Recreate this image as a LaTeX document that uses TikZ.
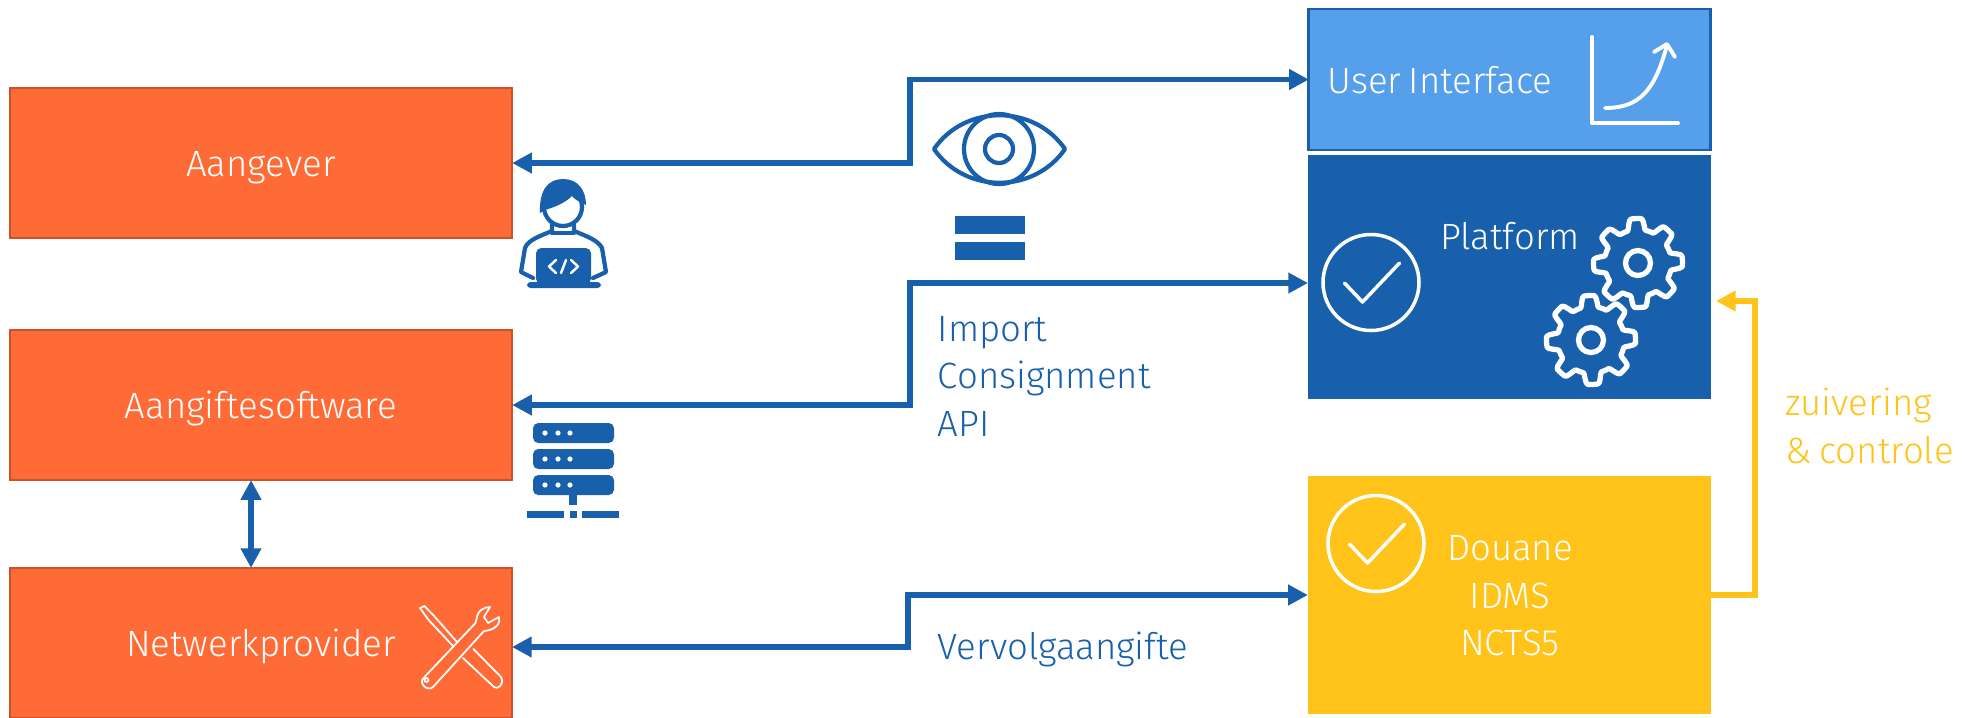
\documentclass[tikz,border=0pt]{standalone}
\usepackage{fontspec}
\setmainfont{Fira Sans}[UprightFont=* Light, WordSpace=0.7]
\usetikzlibrary{calc, arrows.meta}
\definecolor{orangebox}{HTML}{FF6B37}
\definecolor{orangeline}{HTML}{C9522A}
\definecolor{bluelight}{HTML}{569FEB}
\definecolor{bluedark}{HTML}{1860AC}
\definecolor{yellowbox}{HTML}{FFC319}
\tikzset{
    labeltext/.style={font=\fontsize{10.4}{13.5}\selectfont, align=center, inner sep=0pt},
    partybox/.style={draw=orangeline, line width=0.6pt, fill=orangebox, text=white, labeltext, outer sep=0pt, text height=7.4pt, text depth=0pt, minimum width=5.02cm, minimum height=1.5cm},
    flow/.style={draw=bluedark, line width=1.5pt, {Triangle[length=5.6pt,width=5.6pt]}-{Triangle[length=5.6pt,width=5.6pt]}},
    checkflow/.style={draw=yellowbox, line width=1.5pt, -{Triangle[length=5.6pt,width=5.6pt]}},
    whiteline/.style={draw=white, line width=1pt, line join=round, line cap=round},
    blueline/.style={draw=bluedark, line width=1.2pt, line join=round, line cap=round},
    gearicon/.pic={
        \draw[whiteline, line width=1.5pt] plot[samples=161, domain=0:360] ({(39+5.5*max(-1,min(1,2.2*cos(8*\x+20))))*cos(\x)}, {(39+5.5*max(-1,min(1,2.2*cos(8*\x+20))))*sin(\x)}) -- cycle;
        \draw[whiteline, line width=1.5pt] (0,0) circle (12.5);
    },
    checkicon/.pic={
        \draw[whiteline] (0,0) circle (48);
        \draw[whiteline] (-26.5,0.5) -- (-8.5,19.5) -- (28.5,-19.5);
    },
}
\begin{document}
\begin{tikzpicture}[x=0.01cm, y=-0.01cm]
    \useasboundingbox (0,0) rectangle (1965,717);
    \node[partybox] (aangever) at (261,163) {Aangever};
    \node[partybox] (software) at (261,405) {Aangiftesoftware};
    \node[partybox] (provider) at (261,643) {Netwerkprovider};
    \node[draw=bluedark, fill=bluelight, line width=0.8pt, outer sep=0pt, minimum width=4.01cm, minimum height=1.41cm] (ui) at (1509.5,79.5) {};
    \node[fill=bluedark, inner sep=0pt, outer sep=0pt, minimum width=4.03cm, minimum height=2.44cm] (platform) at (1509.5,277) {};
    \node[fill=yellowbox, inner sep=0pt, outer sep=0pt, minimum width=4.03cm, minimum height=2.38cm] (douane) at (1509.5,595) {};

    \node[labeltext, text=white, anchor=west] (uilabel) at (1327,80) {User Interface};
    \node[labeltext, text=white] (platformlabel) at (1510,236) {Platform};
    \node[labeltext, text=white] (douanelabel) at (1510,596) {Douane\\IDMS\\NCTS5};
    \node[labeltext, text=bluedark, align=left, anchor=west] (apilabel) at (937,376) {Import\\Consignment\\API};
    \node[labeltext, text=bluedark, anchor=west] (vervolglabel) at (937,649) {Vervolgaangifte};
    \node[labeltext, text=yellowbox, align=left, anchor=west] (zuiveringlabel) at (1785,426) {zuivering\\\& controle};

    \coordinate (platformin) at (1308,283);
    \coordinate (platformback) at (1716,301);
    \coordinate (providerin) at (512,647);
    \draw[flow] (aangever.east) -- (910,163) -- (910,79.5) -- (ui.west);
    \draw[flow] (software.east) -- (910,405) -- (910,283) -- (platformin);
    \draw[flow] (providerin) -- (908,647) -- (908,595) -- (douane.west);
    \draw[flow] (software.south -| 251,0) -- (provider.north -| 251,0);
    \draw[checkflow] (douane.east) -- (1755,595) -- (1755,301) -- (platformback);

    \draw[blueline] (934,149) .. controls (965,104) and (1034,104) .. (1065,149) .. controls (1034,194) and (965,194) .. cycle;
    \draw[blueline] (999,149) circle (35);
    \draw[blueline] (999,149) circle (14);
    \fill[bluedark] (955,216) rectangle (1025,234);
    \fill[bluedark] (955,242) rectangle (1025,260);

    \draw[blueline] (563,207) circle (19);
    \fill[bluedark] (540,213) .. controls (539,190) and (548,179) .. (563,179) .. controls (578,179) and (586,190) .. (586,205) .. controls (580,202) and (575,200) .. (572,196) .. controls (565,203) and (555,207) .. (545,210) -- cycle;
    \draw[blueline] (533,278) -- (521,272) -- (525,248) .. controls (528,240) and (540,236) .. (552,231) -- (552,225);
    \draw[blueline] (593,278) -- (606,272) -- (602,248) .. controls (598,240) and (586,236) .. (574,231) -- (574,225);
    \draw[blueline] (552,233) -- (574,233);
    \fill[bluedark, rounded corners=1.5pt] (536,248) rectangle (591,284);
    \fill[bluedark, rounded corners=1pt] (527,282) rectangle (601,288);
    \draw[whiteline, line width=0.7pt] (556,260) -- (549,266.5) -- (556,273);
    \draw[whiteline, line width=0.7pt] (571,260) -- (578,266.5) -- (571,273);
    \draw[whiteline, line width=0.7pt] (566,260) -- (561,273);

    \foreach \y in {423,449,475}{
        \fill[bluedark, rounded corners=1.5pt] (533,\y) rectangle (614,\y+20);
        \foreach \x in {545,558,570}{
            \fill[white] (\x,\y+10) circle (2.6);
        }
    }
    \fill[bluedark] (569,495) rectangle (577,505);
    \fill[bluedark] (527,511) rectangle (564,518);
    \fill[bluedark] (570,511) rectangle (577,518);
    \fill[bluedark] (582,511) rectangle (619,518);

    \draw[whiteline, line width=1.1pt] (1592,37) -- (1592,123) -- (1678,123);
    \draw[whiteline, line width=1.1pt] (1605,108) .. controls (1640,108) and (1655,90) .. (1667,45);
    \draw[whiteline, line width=1.1pt] (1654,52) -- (1667,44) -- (1675,57);
    \pic at (1371,282.5) {checkicon};
    \pic at (1376,543.5) {checkicon};
    \pic at (1638,263) {gearicon};
    \pic at (1591,340) {gearicon};

    \draw[whiteline, line width=0.5pt] (424.5,677) -- (475.5,623) -- (477.5,615) .. controls (479,610) and (485,607) .. (490,607) -- (484,617) -- (488,623) -- (499,617) .. controls (501,623) and (496,630) .. (484,631) -- (433,687) .. controls (428,692) and (417,683) .. (424.5,677) -- cycle;
    \draw[whiteline, line width=0.5pt] (426.5,680) circle (2);
    \draw[whiteline, line width=0.5pt] (457,642) -- (435,617) -- (424.5,606) -- (420,608) -- (428.6,620) -- (453,646);
    \draw[whiteline, line width=0.5pt] (473.5,649) -- (501,677) .. controls (505,685) and (497,690) .. (494,687) -- (463,658);
\end{tikzpicture}
\end{document}
